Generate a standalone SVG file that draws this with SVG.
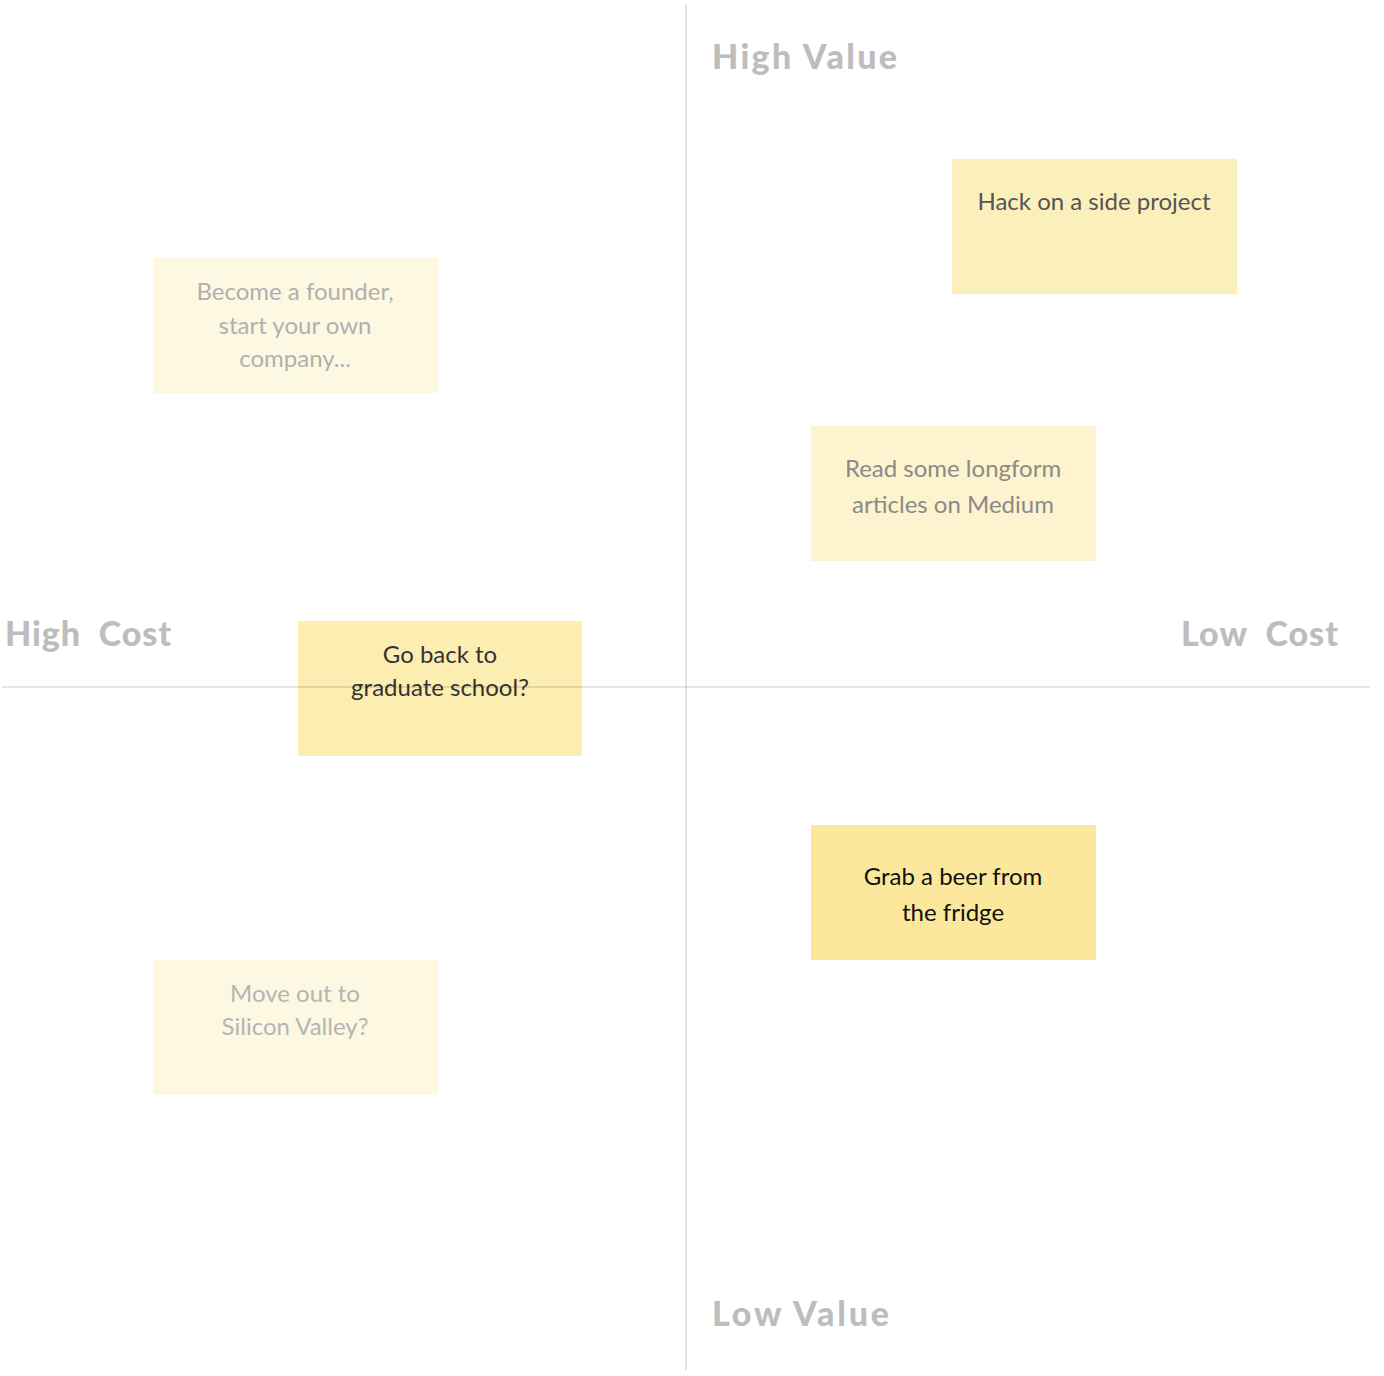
<svg xmlns="http://www.w3.org/2000/svg" width="1384" height="1376" viewBox="0 0 1384 1376">
<style>
.axis{stroke:#000000;stroke-opacity:0.1;stroke-width:2;fill:none}
.lbl{font-family:Lato,"Liberation Sans",sans-serif;font-weight:900;font-size:34px;fill:#bdbdbd}
.nt{font-family:Lato,"Liberation Sans",sans-serif;font-size:24px;text-anchor:middle}
</style>
<rect width="1384" height="1376" fill="#ffffff"/>
<g id="labels">
<text class="lbl" x="712" y="69" textLength="185" lengthAdjust="spacing">High Value</text>
<text class="lbl" x="712" y="1326" textLength="177" lengthAdjust="spacing">Low Value</text>
<text class="lbl" x="5" y="646" xml:space="preserve" textLength="166" lengthAdjust="spacing">High  Cost</text>
<text class="lbl" x="1181" y="646" xml:space="preserve" textLength="157" lengthAdjust="spacing">Low  Cost</text>
</g>
<g id="note-hack">
<rect x="952" y="159" width="285" height="135" fill="#fbefbc"/>
<text class="nt" x="1094" y="210" fill="#555555">Hack on a side project</text>
</g>
<g id="note-founder">
<rect x="153" y="258" width="285" height="135" fill="#fdf8e2"/>
<text class="nt" x="295" y="300" fill="#b0b0b0">Become a founder,</text>
<text class="nt" x="295" y="334" fill="#b0b0b0">start your own</text>
<text class="nt" x="295" y="367" fill="#b0b0b0">company...</text>
</g>
<g id="note-read">
<rect x="811" y="426" width="285" height="135" fill="#fdf3ce"/>
<text class="nt" x="953" y="477" fill="#8a8a8a">Read some longform</text>
<text class="nt" x="953" y="513" fill="#8a8a8a">articles on Medium</text>
</g>
<g id="note-grad">
<rect x="298" y="621" width="284" height="135" fill="#fcedb0"/>
<text class="nt" x="440" y="663" fill="#333333">Go back to</text>
<text class="nt" x="440" y="696" fill="#333333">graduate school?</text>
</g>
<g id="note-beer">
<rect x="811" y="825" width="285" height="135" fill="#fbe89d"/>
<text class="nt" x="953" y="885" fill="#111111">Grab a beer from</text>
<text class="nt" x="953" y="921" fill="#111111">the fridge</text>
</g>
<g id="note-valley">
<rect x="153" y="960" width="285" height="135" fill="#fdf8e2"/>
<text class="nt" x="295" y="1002" fill="#b5b5b5">Move out to</text>
<text class="nt" x="295" y="1035" fill="#b5b5b5">Silicon Valley?</text>
</g>
<g id="connectors">
<line class="axis" x1="686" y1="4" x2="686" y2="1370"/>
<line class="axis" x1="2" y1="687" x2="1370" y2="687"/>
</g>
</svg>
